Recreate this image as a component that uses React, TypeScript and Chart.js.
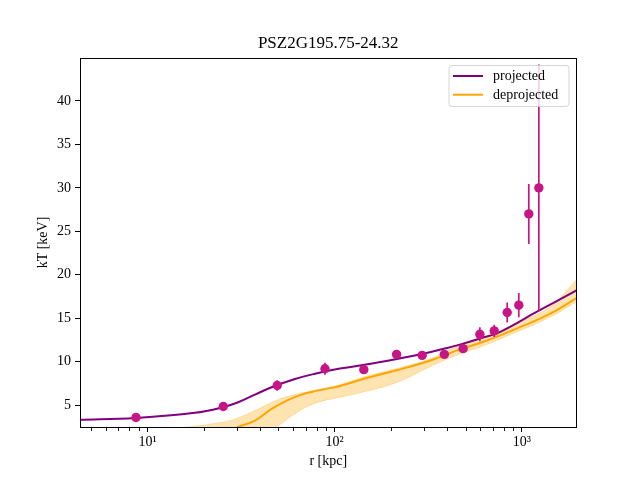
import React, { useEffect, useRef } from "react";
import { Chart, registerables } from "chart.js";

Chart.register(...registerables);

// ---- text ----
const TITLE = "PSZ2G195.75-24.32";
const X_LABEL = "r [kpc]";
const Y_LABEL = "kT [keV]";
const LEGEND_LABELS = ["projected", "deprojected"];

// ---- measured data points (r [kpc], kT [keV], error) ----
const dataR = [8.68, 25.4, 49.3, 88.7, 143, 214, 293, 385, 485, 596, 711, 834, 962, 1088, 1231];
const dataT = [3.56, 4.83, 7.25, 9.18, 9.07, 10.83, 10.72, 10.83, 11.49, 13.14, 13.53, 15.65, 16.5, 27.0, 30.0];
const dataErr = [0.2, 0.3, 0.6, 0.7, 0.3, 0.4, 0.3, 0.3, 0.3, 0.8, 0.7, 1.15, 1.4, 3.45, 14.2];

// ---- projected model curve ----
const projR = [4.3, 8.68, 17.9, 25.3, 30.5, 37.5, 46.0, 61.3, 78.4, 106.6, 141.5, 214.8, 295.8, 378, 466, 596, 762, 1216, 1956];
const projT = [3.3, 3.52, 4.1, 4.75, 5.32, 6.2, 7.05, 8.0, 8.6, 9.2, 9.6, 10.3, 10.9, 11.45, 11.95, 12.65, 13.4, 15.8, 18.2];

// ---- deprojected model curve ----
const deprojR = [30.1, 37.5, 46.0, 56.5, 66.6, 78.4, 106.6, 141.5, 214, 322, 466, 618, 936, 1409, 1956];
const deprojT = [2.45, 3.2, 4.55, 5.6, 6.2, 6.6, 7.2, 8.0, 9.0, 10.1, 11.4, 12.25, 13.8, 15.5, 17.3];

// ---- deprojected uncertainty band ----
const bandR = [16.3, 22.4, 28.6, 37.5, 49.8, 61.3, 78.4, 106.6, 141.5, 214, 322, 466, 618, 936, 1409, 1956];
const bandHi = [2.45, 2.85, 3.3, 4.37, 5.6, 6.2, 6.7, 7.33, 8.2, 9.2, 10.3, 11.9, 12.7, 14.4, 16.3, 19.4];
const bandLo = [0.2, 0.2, 0.4, 1.0, 2.6, 4.0, 5.2, 5.9, 6.5, 7.6, 9.4, 10.9, 11.8, 13.4, 15.1, 16.9];

// ---- axes ----
const xTickValues = [10, 100, 1000];
const xTickLabels = ["10\u00B9", "10\u00B2", "10\u00B3"];
const xMinorValues = [5, 6, 7, 8, 9, 20, 30, 40, 50, 60, 70, 80, 90, 200, 300, 400, 500, 600, 700, 800, 900];
const yTickValues = [5, 10, 15, 20, 25, 30, 35, 40];
const X_MIN = 4.36;
const X_MAX = 1956;
const Y_MIN = 2.47;
const Y_MAX = 44.95;

const PROJ_COLOR = "#800080";
const DEPROJ_COLOR = "#FFA500";
const POINT_COLOR = "#C71585";
const FONT = "'Liberation Serif', 'Times New Roman', serif";

export default function App() {
  const ref = useRef<HTMLCanvasElement>(null);

  useEffect(() => {
    Chart.defaults.font.family = FONT;
    Chart.defaults.color = "#000";

    const errorBars = {
      id: "errorBars",
      beforeDatasetDraw(chart: any, args: any) {
        if (args.index !== 0) return;
        const { ctx, chartArea: a, scales } = chart;
        const x = scales.x;
        const y = scales.y;
        ctx.save();
        ctx.beginPath();
        ctx.rect(a.left, a.top, a.right - a.left, a.bottom - a.top);
        ctx.clip();
        ctx.strokeStyle = POINT_COLOR;
        ctx.lineWidth = 1.7;
        dataR.forEach((r, i) => {
          const px = x.getPixelForValue(r);
          ctx.beginPath();
          ctx.moveTo(px, y.getPixelForValue(dataT[i] - dataErr[i]));
          ctx.lineTo(px, y.getPixelForValue(dataT[i] + dataErr[i]));
          ctx.stroke();
        });
        ctx.restore();
      },
    };

    const frame = {
      id: "frameAndMinor",
      afterDatasetsDraw(chart: any) {
        const { ctx, chartArea: a, scales } = chart;
        const x = scales.x;
        ctx.save();
        ctx.strokeStyle = "#000";
        ctx.lineWidth = 1;
        const l = Math.floor(a.left);
        const t = Math.floor(a.top);
        const r = Math.floor(a.right);
        const b = Math.floor(a.bottom);
        ctx.strokeRect(l + 0.5, t + 0.5, r - l, b - t);
        ctx.lineWidth = 0.9;
        xMinorValues.forEach((v) => {
          if (v < X_MIN || v > X_MAX) return;
          const px = Math.round(x.getPixelForValue(v)) + 0.5;
          ctx.beginPath();
          ctx.moveTo(px, b + 1);
          ctx.lineTo(px, b + 4);
          ctx.stroke();
        });
        ctx.restore();
      },
    };

    const legend = {
      id: "mplLegend",
      afterDraw(chart: any) {
        const { ctx, chartArea: a } = chart;
        const w = 120;
        const h = 41;
        const x0 = a.right - 7.5 - w;
        const y0 = a.top + 7.5;
        ctx.save();
        ctx.beginPath();
        ctx.roundRect(x0, y0, w, h, 3);
        ctx.fillStyle = "rgba(255,255,255,0.8)";
        ctx.fill();
        ctx.strokeStyle = "rgba(204,204,204,0.8)";
        ctx.lineWidth = 1;
        ctx.stroke();
        const colors = [PROJ_COLOR, DEPROJ_COLOR];
        LEGEND_LABELS.forEach((label, i) => {
          const cy = y0 + 10.5 + i * 18.7;
          ctx.strokeStyle = colors[i];
          ctx.lineWidth = 2;
          ctx.beginPath();
          ctx.moveTo(x0 + 4, cy);
          ctx.lineTo(x0 + 34, cy);
          ctx.stroke();
          ctx.fillStyle = "#000";
          ctx.font = `14px ${FONT}`;
          ctx.textBaseline = "middle";
          ctx.textAlign = "left";
          ctx.fillText(label, x0 + 44, cy + 0.5);
        });
        ctx.restore();
      },
    };

    const pts = (xs: number[], ys: number[]) => xs.map((v, i) => ({ x: v, y: ys[i] }));

    const chart = new Chart(ref.current!, {
      type: "line",
      data: {
        datasets: [
          {
            label: "data",
            data: pts(dataR, dataT),
            showLine: false,
            pointRadius: 4.7,
            pointHoverRadius: 4.7,
            pointBackgroundColor: POINT_COLOR,
            pointBorderWidth: 0,
            order: 0,
          },
          {
            label: LEGEND_LABELS[0],
            data: pts(projR, projT),
            borderColor: PROJ_COLOR,
            borderWidth: 2,
            pointRadius: 0,
            tension: 0.4,
            fill: false,
            clip: 0,
            order: 1,
          },
          {
            label: LEGEND_LABELS[1],
            data: pts(deprojR, deprojT),
            borderColor: DEPROJ_COLOR,
            borderWidth: 2,
            pointRadius: 0,
            tension: 0.4,
            fill: false,
            clip: 0,
            order: 2,
          },
          {
            label: "band lower",
            data: pts(bandR, bandLo),
            borderColor: "rgba(255,165,0,0.3)",
            borderWidth: 1,
            pointRadius: 0,
            tension: 0.4,
            fill: false,
            clip: 0,
            order: 3,
          },
          {
            label: "band upper",
            data: pts(bandR, bandHi),
            borderColor: "rgba(255,165,0,0.3)",
            backgroundColor: "rgba(255,165,0,0.3)",
            borderWidth: 1,
            pointRadius: 0,
            tension: 0.4,
            fill: 3,
            clip: 0,
            order: 3,
          },
        ] as any,
      },
      options: {
        responsive: false,
        animation: false,
        events: [],
        layout: { padding: { left: 0, right: 63.5, top: 0, bottom: 0 } },
        plugins: {
          legend: { display: false },
          tooltip: { enabled: false },
          title: {
            display: true,
            fullSize: false,
            text: TITLE,
            color: "#000",
            font: { size: 17, weight: "normal", family: FONT },
            padding: { top: 33, bottom: 4.6 },
          },
        },
        scales: {
          x: {
            type: "logarithmic",
            min: X_MIN,
            max: X_MAX,
            afterBuildTicks: (s: any) => {
              s.ticks = xTickValues.map((v) => ({ value: v }));
            },
            afterFit: (s: any) => {
              s.height = 53;
            },
            ticks: {
              callback: (_v: any, i: number) => xTickLabels[i],
              autoSkip: false,
              maxRotation: 0,
              color: "#000",
              font: { size: 14, family: FONT },
              padding: 2,
            },
            grid: {
              display: true,
              drawOnChartArea: false,
              drawTicks: true,
              tickLength: 5,
              tickColor: "#000",
              tickWidth: 1,
            },
            border: { display: false },
            title: {
              display: true,
              text: X_LABEL,
              color: "#000",
              font: { size: 14, family: FONT },
              padding: { top: 0, bottom: 10.6 },
            },
          },
          y: {
            type: "linear",
            min: Y_MIN,
            max: Y_MAX,
            afterBuildTicks: (s: any) => {
              s.ticks = yTickValues.map((v) => ({ value: v }));
            },
            afterFit: (s: any) => {
              s.width = 80;
            },
            ticks: {
              callback: (v: any) => String(v),
              color: "#000",
              font: { size: 14, family: FONT },
              padding: 4,
            },
            grid: {
              display: true,
              drawOnChartArea: false,
              drawTicks: true,
              tickLength: 5,
              tickColor: "#000",
              tickWidth: 1,
            },
            border: { display: false },
            title: {
              display: true,
              text: Y_LABEL,
              color: "#000",
              font: { size: 14, family: FONT },
              padding: { top: 34.6, bottom: 0 },
            },
          },
        },
      } as any,
      plugins: [errorBars, frame, legend],
    });

    return () => chart.destroy();
  }, []);

  return (
    <div style={{ position: "fixed", left: 0, top: 0, width: 640, height: 480, background: "#fff" }}>
      <canvas ref={ref} width={640} height={480} style={{ display: "block" }} />
    </div>
  );
}
